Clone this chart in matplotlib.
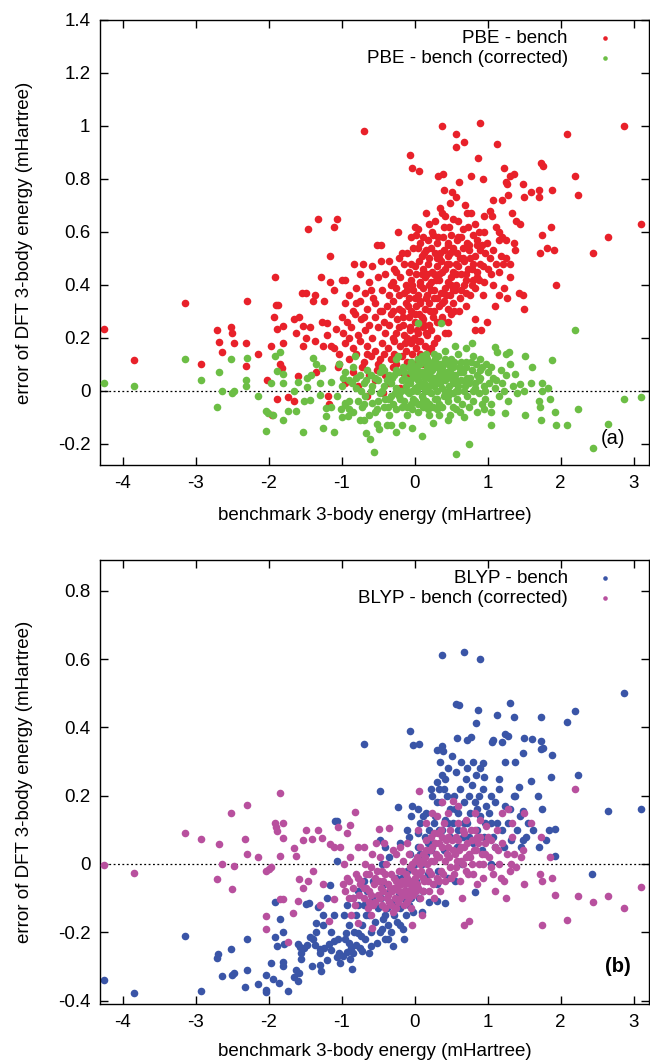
import matplotlib
matplotlib.use("Agg")
import matplotlib.pyplot as plt

plt.rcParams['font.family'] = ['Liberation Sans', 'DejaVu Sans']

# ---------------- data ----------------
xlabel = "benchmark 3-body energy (mHartree)"
ylabel = "error of DFT 3-body energy (mHartree)"
labels_a = ["PBE - bench", "PBE - bench (corrected)"]
labels_b = ["BLYP - bench", "BLYP - bench (corrected)"]
xticks = [-4, -3, -2, -1, 0, 1, 2, 3]
yticks_a = [-0.2, 0, 0.2, 0.4, 0.6, 0.8, 1, 1.2, 1.4]
yticks_b = [-0.4, -0.2, 0, 0.2, 0.4, 0.6, 0.8]

pbe_pts = [
    (-0.69,0.98),(0.37,1.0),(0.90,1.01),(0.57,0.97),(0.67,0.94),(0.56,0.92),(1.13,0.93),(2.09,0.97),(2.87,1.0),
    (-0.06,0.89),(-0.03,0.84),(0.06,0.83),(0.87,0.88),(1.73,0.86),(1.76,0.85),(1.22,0.84),(0.32,0.81),(0.39,0.82),
    (0.61,0.79),(0.77,0.81),(0.94,0.80),(2.20,0.81),(2.24,0.74),(1.30,0.81),(1.36,0.82),(1.25,0.79),(1.27,0.78),
    (1.49,0.78),(1.88,0.76),(1.60,0.75),(1.71,0.76),(1.50,0.73),(1.70,0.73),(1.28,0.74),(1.19,0.72),(1.07,0.72),
    (0.40,0.76),(0.51,0.75),(0.57,0.73),(0.69,0.70),(0.48,0.71),(0.35,0.69),(0.37,0.67),(0.15,0.67),(0.53,0.65),
    (0.72,0.67),(0.77,0.67),(0.95,0.66),(1.03,0.68),(1.06,0.66),(1.34,0.67),(1.39,0.64),(1.44,0.63),(3.10,0.63),
    (2.65,0.58),(2.44,0.52),(1.87,0.62),(1.74,0.59),(1.72,0.52),(1.81,0.54),(1.91,0.53),(1.93,0.40),(1.49,0.36),
    (1.50,0.31),(1.43,0.37),(1.10,0.32),(1.16,0.36),(1.27,0.35),(1.23,0.39),(1.30,0.43),(1.30,0.48),(1.25,0.50),
    (1.21,0.48),(1.18,0.51),(0.99,0.56),(1.07,0.53),(1.03,0.50),(1.36,0.56),(1.38,0.53),(1.25,0.57),(0.83,0.27),
    (0.91,0.23),(0.99,0.26),(0.83,0.23),(0.61,0.30),(0.46,0.22),(0.41,0.22),(-0.23,0.60),(-0.52,0.55),(-0.46,0.55),
    (-0.46,0.49),(-0.35,0.49),(-0.21,0.50),(-0.83,0.48),(-0.71,0.48),(-0.59,0.47),(-1.16,0.51),(-1.32,0.65),
    (-1.46,0.61),(-1.06,0.65),(-1.10,0.62),(-1.28,0.43),(-1.16,0.41),(-0.99,0.42),(-0.96,0.42),(-1.91,0.43),
    (-3.15,0.33),(-2.30,0.34),(-4.26,0.235),(-3.85,0.115),(-2.92,0.10),(-2.71,0.23),(-2.68,0.185),(-2.64,0.145),
    (-2.52,0.24),(-2.50,0.22),(-2.48,0.18),(-2.31,0.18),(-2.31,0.095),(-2.14,0.14),(-1.97,0.17),(-1.92,0.28),
    (-1.90,0.325),(-1.87,0.325),(-1.89,0.235),(-1.80,0.245),(-1.81,0.18),(-1.65,0.27),(-1.58,0.28),(-1.63,0.22),
    (-1.53,0.245),(-1.44,0.24),(-1.54,0.37),(-1.49,0.37),(-1.37,0.36),(-1.39,0.34),(-1.24,0.34),(-1.53,0.17),
    (-1.49,0.20),(-1.36,0.19),(-1.27,0.26),(-1.20,0.255),(-1.08,0.235),(-1.20,0.21),(-1.26,0.17),(-1.15,0.17),
    (-1.11,0.16),(-1.03,0.14),(-1.03,0.10),(-1.05,0.09),(-2.02,0.04),(-1.88,-0.03),(-1.96,-0.09),(-1.74,-0.025),
    (-1.60,0.055),(-1.65,-0.04),(-1.85,0.10),(-1.82,0.085),(-1.35,0.07),(-1.19,-0.02),(-1.18,-0.05),
    # dense core
    (0.00,0.62),(0.05,0.61),(0.20,0.63),(0.28,0.64),(0.42,0.66),(0.47,0.62),(0.60,0.64),(0.66,0.61),(0.82,0.63),
    (0.88,0.60),(1.12,0.62),(1.16,0.60),
    (-0.05,0.58),(0.02,0.59),(0.08,0.56),(0.12,0.58),(0.18,0.57),(0.25,0.59),(0.31,0.56),(0.39,0.58),(0.45,0.56),
    (0.50,0.59),(0.58,0.57),(0.64,0.58),(0.72,0.56),(0.80,0.59),(0.86,0.57),(0.92,0.55),(1.15,0.57),
    (-0.10,0.52),(-0.02,0.54),(0.04,0.54),(0.10,0.51),(0.16,0.53),(0.22,0.54),(0.28,0.52),(0.34,0.50),(0.40,0.53),
    (0.46,0.51),(0.52,0.54),(0.58,0.52),(0.66,0.50),(0.74,0.53),(0.82,0.51),(0.90,0.53),(0.97,0.52),
    (-0.28,0.46),(-0.15,0.48),(-0.08,0.45),(0.00,0.47),(0.06,0.49),(0.12,0.46),(0.18,0.48),(0.24,0.45),(0.30,0.47),
    (0.36,0.49),(0.42,0.46),(0.47,0.48),(0.53,0.45),(0.60,0.47),(0.67,0.49),(0.73,0.46),(0.80,0.48),(0.86,0.45),
    (0.93,0.47),(1.00,0.46),(1.12,0.48),
    (-0.75,0.44),(-0.62,0.41),(-0.50,0.43),(-0.40,0.44),(-0.30,0.41),(-0.20,0.43),(-0.12,0.40),(-0.05,0.42),
    (0.02,0.44),(0.08,0.41),(0.14,0.43),(0.20,0.40),(0.27,0.44),(0.33,0.42),(0.38,0.45),(0.45,0.41),(0.50,0.43),
    (0.57,0.40),(0.63,0.44),(0.70,0.42),(0.78,0.40),(0.85,0.43),(0.95,0.41),(1.05,0.44),
    (-1.10,0.38),(-0.90,0.36),(-0.80,0.39),(-0.68,0.37),(-0.57,0.35),(-0.45,0.38),(-0.35,0.36),(-0.25,0.39),
    (-0.15,0.37),(-0.08,0.35),(-0.02,0.38),(0.05,0.36),(0.11,0.39),(0.17,0.36),(0.23,0.38),(0.30,0.35),(0.36,0.37),
    (0.42,0.39),(0.48,0.36),(0.55,0.38),(0.62,0.35),(0.70,0.37),(0.76,0.36),(0.83,0.39),
    (-0.95,0.33),(-0.85,0.30),(-0.75,0.34),(-0.65,0.31),(-0.55,0.33),(-0.48,0.30),(-0.38,0.32),(-0.30,0.34),
    (-0.22,0.31),(-0.12,0.33),(-0.05,0.30),(0.02,0.32),(0.08,0.34),(0.14,0.31),(0.20,0.33),(0.26,0.30),(0.33,0.32),
    (0.40,0.34),(0.46,0.31),(0.52,0.33),(0.70,0.32),
    (-1.00,0.28),(-0.92,0.26),(-0.82,0.29),(-0.73,0.27),(-0.63,0.25),(-0.54,0.28),(-0.42,0.26),(-0.33,0.29),
    (-0.24,0.27),(-0.16,0.25),(-0.08,0.28),(0.00,0.26),(0.06,0.29),(0.12,0.27),(0.19,0.25),(0.25,0.28),(0.31,0.26),
    (0.38,0.28),(0.45,0.26),(0.50,0.29),
    (-0.98,0.22),(-0.87,0.24),(-0.78,0.21),(-0.68,0.23),(-0.58,0.20),(-0.50,0.24),(-0.40,0.22),(-0.30,0.20),
    (-0.22,0.24),(-0.14,0.21),(-0.07,0.23),(-0.01,0.20),(0.05,0.22),(0.11,0.24),(0.17,0.21),(0.23,0.23),(0.30,0.20),
    (-0.95,0.18),(-0.85,0.16),(-0.75,0.19),(-0.65,0.17),(-0.55,0.15),(-0.45,0.18),(-0.37,0.16),(-0.28,0.19),
    (-0.20,0.17),(-0.12,0.15),(-0.05,0.18),(0.02,0.16),(0.08,0.19),(0.14,0.17),(0.20,0.15),(0.26,0.18),
    (-0.90,0.12),(-0.80,0.14),(-0.70,0.11),(-0.60,0.13),(-0.50,0.10),(-0.42,0.14),(-0.33,0.12),(-0.25,0.10),
    (-0.17,0.13),(-0.10,0.11),(-0.03,0.14),(0.04,0.12),(0.10,0.10),(0.16,0.13),
    (-0.85,0.07),(-0.72,0.09),(-0.62,0.06),(-0.52,0.08),(-0.40,0.06),(-0.30,0.09),(-0.18,0.07),(-0.08,0.06),
    (-0.95,0.03),(-0.77,0.02),(-0.55,0.04),(-0.35,0.03),(-0.20,0.01),(-0.65,-0.02),(-0.43,-0.01),
    (-0.25,0.45),(-0.18,0.52),(-0.10,0.38),(-0.05,0.48),(0.00,0.35),(0.03,0.23),(0.07,0.40),(0.10,0.28),
    (0.13,0.52),(0.17,0.44),(0.21,0.30),(0.24,0.60),(0.27,0.38),(0.30,0.50),(0.34,0.44),(0.37,0.27),(0.40,0.62),
    (0.43,0.36),(0.46,0.55),(0.50,0.40),(0.54,0.30),(0.57,0.48),(0.60,0.58),(0.63,0.38),(0.66,0.54),(0.70,0.44),
    (0.73,0.62),(0.76,0.50),(0.80,0.42),(0.85,0.55),(0.90,0.48),(0.95,0.60),(-0.35,0.25),(-0.28,0.14),
    (-0.32,0.40),(-0.18,0.30),(-0.10,0.20),(-0.02,0.10),(0.07,0.14),(0.15,0.22),(0.22,0.16),(-0.45,0.30),
    (-0.60,0.38),(-0.70,0.28),(-0.80,0.33),(-0.90,0.20),(-0.65,0.14),(-0.48,0.12),(1.08,0.40),(1.15,0.45),
    (1.20,0.58),(0.93,0.36),
    (-0.30,0.30),(-0.26,0.22),(-0.22,0.36),(-0.16,0.28),(-0.13,0.18),(-0.09,0.32),(-0.06,0.24),(-0.03,0.40),
    (0.01,0.29),(0.04,0.19),(0.07,0.33),(0.10,0.44),(0.13,0.25),(0.16,0.35),(0.19,0.50),(0.23,0.41),(0.26,0.35),
    (0.29,0.42),(0.32,0.58),(0.35,0.52),(0.38,0.33),(0.44,0.48),(0.49,0.52),(0.52,0.38),(0.56,0.44),(0.62,0.50),
    (0.68,0.40),(0.75,0.55),(0.78,0.46),(0.88,0.42),
]

pbe_cor_pts = [
    (0.05,0.255),(0.36,0.255),(0.78,0.18),(1.10,0.165),(2.20,0.23),
    (-3.15,0.12),(-2.52,0.12),(-2.30,0.125),(-1.91,0.13),(-1.85,0.145),(-1.39,0.125),(-1.04,0.10),(-0.82,0.13),
    (-0.23,0.13),(-0.05,0.11),(0.05,0.12),(0.15,0.14),(0.25,0.11),(0.32,0.13),(0.42,0.15),(0.50,0.12),(0.60,0.14),
    (0.70,0.11),(0.80,0.13),(0.90,0.12),(1.13,0.145),(1.25,0.14),(1.29,0.145),(1.51,0.13),(1.88,0.115),(0.98,0.10),
    (-2.68,0.07),(-1.89,0.075),(-1.81,0.065),(-1.48,0.05),(-1.42,0.06),(-1.35,0.10),(-1.27,0.085),(-0.95,0.07),
    (-0.85,0.09),(-0.75,0.06),(-0.65,0.08),(-0.55,0.05),(-0.45,0.09),(-0.35,0.06),(-0.25,0.08),(-0.15,0.05),
    (-0.08,0.09),(-0.02,0.06),(0.03,0.08),(0.08,0.10),(0.12,0.06),(0.17,0.09),(0.21,0.07),(0.26,0.05),(0.30,0.09),
    (0.35,0.07),(0.40,0.06),(0.45,0.10),(0.49,0.08),(0.55,0.06),(0.61,0.09),(0.66,0.07),(0.72,0.05),(0.78,0.08),
    (0.85,0.06),(0.92,0.09),(1.00,0.07),(1.08,0.05),(1.18,0.08),(1.31,0.10),(1.38,0.065),(1.61,0.09),(1.25,0.06),
    (-4.26,0.03),(-3.85,0.02),(-2.92,0.04),(-2.48,0.0),(-2.31,0.04),(-2.31,0.02),(-1.97,0.03),(-1.80,0.03),
    (-1.60,0.035),(-1.48,0.015),(-1.15,0.035),(-1.00,0.02),(-0.90,0.04),(-0.80,0.01),(-0.70,0.03),(-0.60,0.0),
    (-0.50,0.04),(-0.42,0.02),(-0.33,0.03),(-0.26,0.01),(-0.18,0.04),(-0.12,0.02),(-0.06,0.03),(0.00,0.01),
    (0.04,0.04),(0.09,0.02),(0.13,0.03),(0.18,0.0),(0.22,0.04),(0.27,0.02),(0.32,0.03),(0.37,0.01),(0.42,0.04),
    (0.47,0.02),(0.52,0.03),(0.57,0.0),(0.63,0.04),(0.69,0.02),(0.75,0.03),(0.82,0.01),(0.88,0.04),(0.95,0.02),
    (1.02,0.03),(1.10,0.01),(1.20,0.03),(1.35,0.02),(1.44,0.025),(1.59,0.03),(1.75,0.03),(1.74,0.0),(1.82,0.01),
    (1.50,0.0),
    (-2.64,0.0),(-2.50,-0.01),(-2.14,-0.02),(-1.65,0.0),(-1.51,-0.04),(-1.43,-0.035),(-1.29,-0.015),(-1.06,-0.02),
    (-0.95,-0.045),(-0.90,-0.04),(-0.78,-0.04),(-0.68,-0.02),(-0.58,-0.045),(-0.48,-0.01),(-0.40,-0.03),
    (-0.30,-0.05),(-0.22,-0.02),(-0.15,-0.04),(-0.08,-0.01),(-0.02,-0.03),(0.05,-0.05),(0.10,-0.02),(0.16,-0.04),
    (0.22,-0.01),(0.28,-0.03),(0.34,-0.05),(0.40,-0.02),(0.46,-0.04),(0.52,-0.01),(0.58,-0.03),(0.65,-0.05),
    (0.72,-0.02),(0.80,-0.04),(0.88,-0.01),(0.96,-0.03),(1.05,-0.05),(1.15,-0.02),(1.28,-0.04),(1.40,-0.01),
    (1.70,-0.04),(1.86,-0.03),(2.87,-0.03),(3.10,-0.025),
    (-2.71,-0.06),(-2.04,-0.075),(-2.01,-0.085),(-1.94,-0.09),(-1.74,-0.075),(-1.62,-0.075),(-1.22,-0.065),
    (-1.21,-0.095),(-1.01,-0.07),(-0.99,-0.10),(-0.95,-0.055),(-0.91,-0.095),(-0.85,-0.08),(-0.72,-0.06),
    (-0.62,-0.09),(-0.52,-0.07),(-0.42,-0.06),(-0.35,-0.09),(-0.25,-0.07),(-0.18,-0.06),(-0.10,-0.09),
    (-0.03,-0.07),(0.04,-0.08),(0.12,-0.06),(0.20,-0.09),(0.30,-0.07),(0.38,-0.06),(0.48,-0.09),(0.56,-0.07),
    (0.67,-0.10),(0.75,-0.06),(0.85,-0.08),(0.95,-0.07),(1.04,-0.08),(1.24,-0.085),(1.51,-0.09),(1.72,-0.06),
    (1.92,-0.08),(2.24,-0.07),
    (-2.04,-0.15),(-1.81,-0.11),(-1.53,-0.155),(-1.26,-0.14),(-1.10,-0.155),(-0.75,-0.11),(-0.70,-0.11),
    (-0.51,-0.125),(-0.49,-0.145),(-0.38,-0.13),(-0.33,-0.13),(-0.18,-0.13),(-0.04,-0.14),(0.25,-0.12),
    (0.45,-0.11),(1.04,-0.13),(1.73,-0.11),(1.93,-0.13),(2.09,-0.13),(2.65,-0.125),
    (-0.66,-0.16),(-0.61,-0.18),(-0.56,-0.23),(-0.26,-0.155),(0.10,-0.17),(0.57,-0.24),(0.75,-0.20),(2.44,-0.215),
    (0.02,0.05),(0.07,0.03),(0.11,0.07),(0.15,0.02),(0.19,0.06),(0.24,0.08),(0.29,0.04),(0.33,0.06),(0.38,0.09),
    (0.43,0.05),(0.48,0.07),(0.53,0.09),(-0.05,0.07),(-0.10,0.04),(0.06,0.10),(0.16,0.11),(0.28,0.12),(0.36,0.10),
    (-0.45,0.0),(-0.38,0.04),(-0.32,-0.02),(-0.28,0.06),(-0.20,-0.03),(-0.14,0.07),(-0.10,0.0),(-0.04,0.10),
    (0.00,-0.04),(0.03,0.0),(0.06,0.06),(0.09,-0.05),(0.12,0.11),(0.14,0.0),(0.20,0.02),(0.23,0.10),(0.25,-0.06),
    (0.30,0.0),(0.34,0.10),(0.37,0.04),(0.41,-0.01),(0.44,0.07),(0.50,0.05),(0.54,0.11),(0.59,0.02),(0.62,0.07),
    (0.68,0.0),(0.70,0.09),(0.76,0.05),(0.80,0.0),(0.84,0.10),(0.90,0.05),(0.97,0.0),(1.05,0.09),(1.12,0.04),
    (1.22,0.0),(-0.60,0.06),(-0.70,-0.05),(-0.80,0.05),(-0.90,-0.07),(-0.55,-0.08),(-0.48,0.07),(-0.25,0.12),
    (-0.35,-0.03),(0.18,-0.07),(0.26,0.14),(0.33,-0.09),(0.52,-0.06),(0.62,-0.08),(0.92,-0.05),(-1.15,-0.06),
    (-1.30,0.03),(-0.05,-0.05),(0.10,0.13),(0.45,0.0),(0.70,0.16),(0.55,0.17),
    (-0.42,0.08),(-0.37,-0.06),(-0.31,0.05),(-0.27,-0.01),(-0.23,0.07),(-0.19,0.0),(-0.16,0.09),(-0.11,-0.06),
    (-0.07,0.04),(-0.03,0.0),(0.01,0.09),(0.05,0.02),(0.08,0.07),(0.11,-0.03),(0.14,0.05),(0.17,0.12),(0.20,-0.05),
    (0.23,0.05),(0.27,0.09),(0.31,-0.03),(0.35,0.03),(0.39,0.07),(0.42,0.12),(0.46,-0.02),(0.51,0.10),(0.56,0.04),
    (0.60,0.0),(0.64,0.11),(0.71,0.03),(0.77,0.11),(0.83,0.03),(0.89,0.08),(-0.50,-0.04),(-0.58,0.02),(-0.66,0.04),
    (-0.74,0.0),(-0.86,0.03),(-0.98,0.05),
]

blyp_pts = [
    (-4.26,-0.34),(-3.85,-0.377),(-3.15,-0.21),(-2.92,-0.373),(-2.71,-0.275),(-2.69,-0.265),(-2.64,-0.327),
    (-2.52,-0.25),(-2.50,-0.325),(-2.48,-0.32),(-2.32,-0.36),(-2.30,-0.31),(-2.29,-0.22),(-2.14,-0.352),
    (-2.04,-0.374),(-2.03,-0.326),(-2.03,-0.368),(-1.97,-0.29),(-1.94,-0.338),(-1.91,-0.215),(-1.89,-0.24),
    (-1.86,-0.348),(-1.91,-0.11),(-1.85,-0.16),(-1.81,-0.286),(-1.81,-0.20),(-1.81,-0.30),(-1.73,-0.372),
    (-1.79,-0.233),(-1.65,-0.33),(-1.63,-0.31),(-1.60,-0.344),(-1.59,-0.32),(-1.60,-0.235),(-1.57,-0.243),
    (-1.55,-0.277),(-1.55,-0.26),(-1.52,-0.247),(-1.48,-0.237),(-1.44,-0.214),(-1.39,-0.22),(-1.36,-0.237),
    (-1.49,-0.117),(-1.45,-0.114),(-1.35,-0.173),(-1.32,-0.127),(-1.30,-0.262),(-1.29,-0.297),(-1.28,-0.314),
    (-1.24,-0.247),(-1.20,-0.28),(-1.18,-0.235),(-1.26,-0.148),(-1.16,-0.061),(-1.09,0.127),(-1.06,0.127),
    (-1.06,0.01),(-1.15,-0.252),(-1.10,-0.227),(-1.06,-0.272),(-1.04,-0.26),(-1.02,-0.289),(-0.98,-0.27),
    (-0.94,-0.203),(-0.92,-0.257),(-0.88,-0.277),(-0.87,-0.247),(-0.86,-0.307),(-0.81,-0.237),(-0.78,-0.203),
    (-0.75,-0.247),(-0.72,-0.256),(-0.69,0.35),(-0.48,0.215),(-0.23,0.168),(-0.06,0.39),(-0.02,0.348),(0.06,0.35),
    (0.37,0.612),(0.67,0.62),(0.90,0.60),(0.56,0.467),(0.61,0.466),(0.87,0.452),(0.84,0.413),(1.31,0.47),
    (1.13,0.437),(1.36,0.43),(1.73,0.43),(2.09,0.415),(2.20,0.449),(2.87,0.50),
    (0.31,0.335),(0.38,0.345),(0.39,0.33),(0.51,0.316),(0.58,0.37),(0.72,0.362),(0.77,0.373),(0.93,0.296),
    (0.95,0.256),(1.06,0.358),(1.07,0.362),(1.19,0.356),(1.24,0.382),(1.28,0.374),(1.38,0.30),(1.24,0.30),
    (1.50,0.368),(1.61,0.367),(1.73,0.36),(1.49,0.324),(1.73,0.336),(1.76,0.34),(1.88,0.318),
    (2.24,0.26),(1.87,0.256),(1.59,0.242),(1.43,0.225),(1.49,0.156),(1.75,0.162),(1.69,0.198),(2.65,0.154),
    (3.10,0.162),(2.43,-0.03),(1.92,0.024),(1.92,0.103),(1.84,0.10),(0.83,-0.081),(0.41,-0.113),(0.30,-0.107),
    # core band
    (-0.97,-0.15),(-0.93,-0.12),(-0.90,-0.18),(-0.85,-0.10),(-0.80,-0.15),(-0.78,-0.08),(-0.95,-0.22),(-0.83,-0.20),
    (-0.72,-0.18),(-0.70,-0.12),(-0.68,-0.22),(-0.65,-0.08),(-0.62,-0.15),(-0.60,-0.20),(-0.58,-0.10),(-0.55,-0.17),
    (-0.52,-0.23),(-0.50,-0.13),(-0.70,-0.05),(-0.63,-0.26),(-0.57,-0.05),
    (-0.48,-0.20),(-0.46,-0.10),(-0.44,-0.16),(-0.42,-0.06),(-0.40,-0.22),(-0.38,-0.13),(-0.36,-0.18),(-0.34,-0.08),
    (-0.32,-0.20),(-0.30,-0.11),(-0.28,-0.15),(-0.26,-0.04),(-0.45,0.0),(-0.35,0.02),(-0.30,-0.24),(-0.48,0.07),
    (-0.40,0.05),
    (-0.24,-0.17),(-0.22,-0.09),(-0.20,-0.13),(-0.18,-0.04),(-0.16,-0.19),(-0.14,-0.10),(-0.12,-0.15),(-0.10,-0.02),
    (-0.08,-0.12),(-0.06,0.03),(-0.04,-0.07),(-0.02,-0.14),(-0.20,0.06),(-0.10,0.10),(-0.05,0.14),(-0.15,-0.22),
    (-0.03,0.17),(-0.08,0.08),
    (0.02,-0.05),(0.04,0.05),(0.06,-0.10),(0.08,0.12),(0.10,0.0),(0.12,-0.08),(0.14,0.08),(0.16,0.15),(0.18,-0.03),
    (0.20,0.10),(0.22,0.04),(0.24,0.20),(0.05,0.16),(0.10,-0.14),(0.20,-0.11),(0.15,0.03),(0.04,0.09),(0.22,0.22),
    (0.26,0.06),(0.28,0.14),(0.30,0.24),(0.32,-0.02),(0.34,0.10),(0.36,0.18),(0.38,0.26),(0.40,0.04),(0.42,0.13),
    (0.44,0.20),(0.46,0.28),(0.48,0.08),(0.30,-0.06),(0.35,0.30),(0.45,-0.04),(0.40,0.22),(0.33,0.22),(0.48,0.16),
    (0.42,0.25),
    (0.52,0.12),(0.54,0.20),(0.56,0.27),(0.58,0.05),(0.60,0.15),(0.62,0.22),(0.64,0.30),(0.66,0.08),(0.68,0.18),
    (0.70,0.25),(0.72,0.12),(0.74,0.20),(0.55,-0.05),(0.65,0.0),(0.72,0.28),(0.60,0.10),
    (0.76,0.15),(0.78,0.23),(0.80,0.06),(0.82,0.18),(0.84,0.26),(0.86,0.10),(0.88,0.20),(0.90,0.14),(0.92,0.04),
    (0.94,0.22),(0.96,0.12),(0.98,0.17),(0.80,0.30),(0.90,0.28),
    (1.02,0.15),(1.05,0.20),(1.08,0.08),(1.10,0.18),(1.13,0.12),(1.16,0.22),(1.20,0.10),(1.22,0.05),(1.05,0.0),
    (1.15,0.25),(1.24,0.17),
    (1.28,0.12),(1.32,0.07),(1.36,0.20),(1.40,0.10),(1.45,0.05),(1.30,0.16),(1.44,0.14),(1.48,0.07),(1.38,0.20),
    (1.52,0.08),(1.55,0.12),(1.62,0.10),(1.70,0.05),(1.80,0.07),
    (-1.40,-0.30),(-1.35,-0.20),(-1.25,-0.18),(-1.15,-0.20),(-1.10,-0.15),(-1.05,-0.22),(-1.30,-0.25),(-1.20,-0.10),
    (-0.90,-0.23),(-0.85,-0.26),(-0.78,-0.12),(-0.73,-0.21),(-0.66,-0.15),(-0.60,-0.24),(-0.55,-0.11),(-0.45,-0.19),
    (-0.40,-0.15),(-0.36,-0.22),(-0.25,-0.12),(-0.20,-0.18),(-0.12,-0.08),(-0.05,-0.10),(0.00,0.0),(0.08,0.03),
    (0.12,0.14),(0.18,0.06),(0.26,0.12),(0.30,0.18),(0.38,0.10),(0.45,0.12),(0.55,0.16),(0.62,0.05),(0.68,0.12),
    (0.75,0.08),(0.85,0.16),(0.95,0.08),(1.05,0.12),(1.10,0.05),
]

blyp_cor_pts = [
    (-4.26,-0.003),(-3.85,-0.025),(-3.15,0.091),(-2.92,0.073),(-2.71,-0.043),(-2.68,0.058),(-2.64,0.0),
    (-2.52,0.15),(-2.50,-0.072),(-2.48,-0.006),(-2.32,0.074),(-2.30,0.028),(-2.30,0.174),(-2.14,0.019),
    (-2.04,-0.153),(-2.04,-0.19),(-2.03,-0.022),(-2.00,-0.015),(-1.97,-0.01),(-1.91,0.119),(-1.90,0.109),
    (-1.89,0.096),(-1.85,0.024),(-1.85,0.208),(-1.81,0.119),(-1.80,0.077),(-1.81,-0.104),(-1.73,-0.228),
    (-1.85,-0.104),(-1.66,-0.145),(-1.65,0.047),(-1.62,0.024),(-1.60,-0.107),(-1.59,-0.045),(-1.53,-0.07),
    (-1.53,0.071),(-1.49,0.099),(-1.46,-0.05),(-1.40,0.073),(-1.39,-0.02),(-1.32,0.099),(-1.27,0.077),
    (-1.29,-0.119),(-1.26,-0.059),(-1.18,-0.168),(-1.10,-0.104),(-0.77,-0.173),(-0.58,-0.188),
    (0.06,0.215),(-0.35,0.106),(-0.49,0.103),(-0.82,0.152),(-0.89,0.113),(-1.05,0.109),(-1.16,0.059),
    (-1.11,0.049),(-1.02,0.049),(0.53,0.183),(0.24,0.15),(-0.03,-0.178),(0.67,-0.18),(0.74,-0.168),
    (-0.98,-0.06),(-0.95,-0.08),(-0.93,-0.04),(-0.90,-0.10),(-0.88,0.02),(-0.85,-0.07),(-0.82,-0.12),(-0.80,-0.03),
    (-0.78,0.05),(-0.76,-0.09),(-0.97,0.0),(-0.87,-0.15),(-0.92,0.09),
    (-0.73,-0.05),(-0.70,-0.10),(-0.68,0.0),(-0.66,-0.07),(-0.64,-0.13),(-0.62,-0.03),(-0.60,-0.09),(-0.58,0.03),
    (-0.56,-0.06),(-0.54,-0.11),(-0.52,-0.02),(-0.70,0.05),(-0.60,-0.15),(-0.53,0.06),(-0.57,-0.12),
    (-0.49,-0.05),(-0.47,-0.10),(-0.45,-0.02),(-0.43,-0.08),(-0.41,-0.13),(-0.39,0.0),(-0.37,-0.06),(-0.35,-0.11),
    (-0.33,-0.03),(-0.31,-0.08),(-0.29,0.04),(-0.27,-0.10),(-0.25,-0.05),(-0.42,0.06),(-0.30,-0.14),(-0.45,-0.12),
    (-0.24,-0.07),(-0.22,-0.02),(-0.20,-0.10),(-0.18,-0.05),(-0.16,0.01),(-0.14,-0.08),(-0.12,-0.03),(-0.10,-0.11),
    (-0.08,0.03),(-0.06,-0.06),(-0.04,0.0),(-0.02,-0.09),(-0.20,0.05),(-0.10,0.06),(-0.05,-0.13),(-0.15,-0.12),
    (-0.25,0.03),
    (0.01,-0.04),(0.03,0.02),(0.05,-0.07),(0.07,0.05),(0.09,-0.02),(0.11,0.03),(0.13,-0.05),(0.15,0.07),(0.17,0.0),
    (0.19,-0.08),(0.21,0.04),(0.23,-0.03),(0.05,0.10),(0.15,0.12),(0.08,-0.10),(0.22,0.08),(0.10,-0.15),
    (0.26,0.01),(0.28,0.06),(0.30,-0.04),(0.32,0.09),(0.34,0.02),(0.36,-0.02),(0.38,0.05),(0.40,0.12),(0.42,-0.05),
    (0.44,0.03),(0.46,0.08),(0.48,-0.01),(0.30,0.14),(0.45,0.15),(0.35,-0.08),(0.38,0.18),(0.27,-0.10),
    (0.52,0.04),(0.54,-0.03),(0.56,0.08),(0.58,0.01),(0.60,0.12),(0.62,-0.05),(0.64,0.05),(0.66,0.0),(0.68,0.09),
    (0.70,-0.02),(0.72,0.06),(0.74,0.03),(0.60,0.17),(0.65,-0.10),(0.70,0.13),
    (0.76,0.02),(0.78,0.07),(0.80,-0.03),(0.82,0.10),(0.84,0.04),(0.86,-0.06),(0.88,0.0),(0.90,0.08),(0.92,0.03),
    (0.94,-0.04),(0.96,0.06),(0.98,0.11),(0.83,0.15),(0.90,0.13),
    (1.02,0.02),(1.05,0.07),(1.08,-0.03),(1.10,0.05),(1.13,0.10),(1.16,0.0),(1.20,0.06),(1.23,-0.05),(1.26,0.03),
    (1.30,-0.02),(1.33,0.08),(1.36,0.03),(1.39,-0.01),(1.10,-0.08),(1.20,0.15),(1.28,0.16),(1.34,0.12),
    (1.50,0.15),(1.45,0.02),(1.50,-0.06),(1.60,0.12),(1.73,0.08),(1.75,-0.05),(1.72,-0.03),(1.88,-0.04),
    (1.92,-0.09),(1.85,0.02),(1.75,-0.18),(2.09,-0.165),(2.24,-0.095),(2.20,0.22),(2.44,-0.11),(2.65,-0.095),
    (2.87,-0.13),(3.10,-0.067),(1.32,0.0),(1.25,-0.10),(1.48,0.04),
    (-0.55,-0.04),(-0.50,-0.09),(-0.44,-0.05),(-0.38,-0.10),(-0.34,-0.07),(-0.28,-0.04),(-0.26,-0.13),(-0.21,-0.08),
    (-0.17,-0.02),(-0.13,-0.06),(-0.09,-0.08),(-0.07,-0.01),(-0.03,-0.05),(0.00,0.01),(0.02,-0.08),(0.06,-0.03),
    (0.10,0.01),(0.12,-0.08),(0.16,0.04),(0.20,-0.02),(0.24,0.05),(0.27,0.09),(0.31,0.02),(0.33,-0.05),(0.37,0.08),
    (0.41,0.01),(0.45,0.05),(0.49,0.10),(0.50,-0.04),(0.55,0.03),(0.59,0.07),(0.63,0.01),(0.67,0.05),(0.73,-0.03),
    (0.77,0.10),(0.81,0.04),(0.87,0.06),(0.93,0.0),(0.97,0.03),(1.00,0.08),(1.04,-0.01),(1.14,0.04),(1.18,-0.04),
    (-0.63,-0.08),(-0.67,-0.03),(-0.75,-0.06),(-0.84,-0.10),(-0.90,-0.05),(-0.60,-0.01),(-0.48,0.02),
    (-0.46,-0.07),(-0.40,-0.03),(-0.36,-0.09),(-0.32,-0.12),(-0.28,-0.07),(-0.23,-0.11),(-0.19,-0.06),(-0.15,-0.09),
    (-0.11,-0.04),(-0.08,-0.10),(-0.04,-0.07),(-0.01,-0.02),(0.03,-0.06),(0.07,0.0),(0.11,-0.04),(0.14,0.02),
    (0.18,-0.05),(0.22,0.01),(0.25,-0.06),(0.29,0.03),(0.33,0.06),(0.36,0.10),(0.39,-0.03),(0.43,0.07),(0.47,0.02),
    (0.51,0.07),(0.57,-0.01),(0.61,0.04),(0.66,0.10),(0.71,0.02),(0.79,0.0),(0.85,0.08),(-0.70,-0.07),(-0.78,-0.04),
    (-0.62,-0.11),
]

# ---------------- style ----------------
RED = "#e8212a"
GREEN = "#6cbe45"
BLUE = "#3a55a7"
PURPLE = "#b8509e"
S = 30
FS = 13.5

W, H = 650, 1061
fig = plt.figure(figsize=(W / 100, H / 100), dpi=100)
ax1 = fig.add_axes([100 / W, 1 - 465 / H, 549 / W, 445 / H])
ax2 = fig.add_axes([100 / W, 1 - 1004 / H, 549 / W, 444 / H])


def style(ax, yticks, ylim, xlab_y):
    ax.set_xlim(-4.31, 3.21)
    ax.set_ylim(*ylim)
    ax.set_xticks(xticks)
    ax.set_yticks(yticks)
    ax.set_xticklabels([f"{t:g}" for t in xticks])
    ax.set_yticklabels([f"{t:g}" for t in yticks])
    ax.tick_params(direction="in", length=6, width=1, top=True, right=True,
                   labelsize=FS)
    ax.tick_params(axis="x", pad=7)
    ax.tick_params(axis="y", pad=7)
    for sp in ax.spines.values():
        sp.set_linewidth(1.0)
    ax.axhline(0, color="black", lw=0.9, ls=(0, (1.5, 2)), zorder=1)
    ax.set_xlabel(xlabel, fontsize=FS)
    ax.set_ylabel(ylabel, fontsize=FS)
    ax.xaxis.set_label_coords(0.5, xlab_y)
    ax.yaxis.set_label_coords(-0.122, 0.5)


style(ax1, yticks_a, (-0.28, 1.4), -0.095)
style(ax2, yticks_b, (-0.41, 0.89), -0.088)

px, py = zip(*pbe_pts)
gx, gy = zip(*pbe_cor_pts)
bx, by = zip(*blyp_pts)
mx, my = zip(*blyp_cor_pts)

ax1.scatter(px, py, s=S, color=RED, linewidths=0, label=labels_a[0], zorder=2)
ax1.scatter(gx, gy, s=S, color=GREEN, linewidths=0, label=labels_a[1], zorder=3)
ax2.scatter(bx, by, s=S, color=BLUE, linewidths=0, label=labels_b[0], zorder=2)
ax2.scatter(mx, my, s=S, color=PURPLE, linewidths=0, label=labels_b[1], zorder=3)

for ax in (ax1, ax2):
    ax.legend(loc="upper right", bbox_to_anchor=(0.951, 0.995), frameon=False,
              markerfirst=False, fontsize=FS, markerscale=0.6, handlelength=1.0,
              handletextpad=1.5, labelspacing=0.15, borderaxespad=0)

ax1.text(2.72, -0.18, "(a)", fontsize=14.5, ha="center", va="center")
ax2.text(2.78, -0.30, "(b)", fontsize=14.5, ha="center", va="center", fontweight="bold")

fig.savefig("out.png", dpi=100)
